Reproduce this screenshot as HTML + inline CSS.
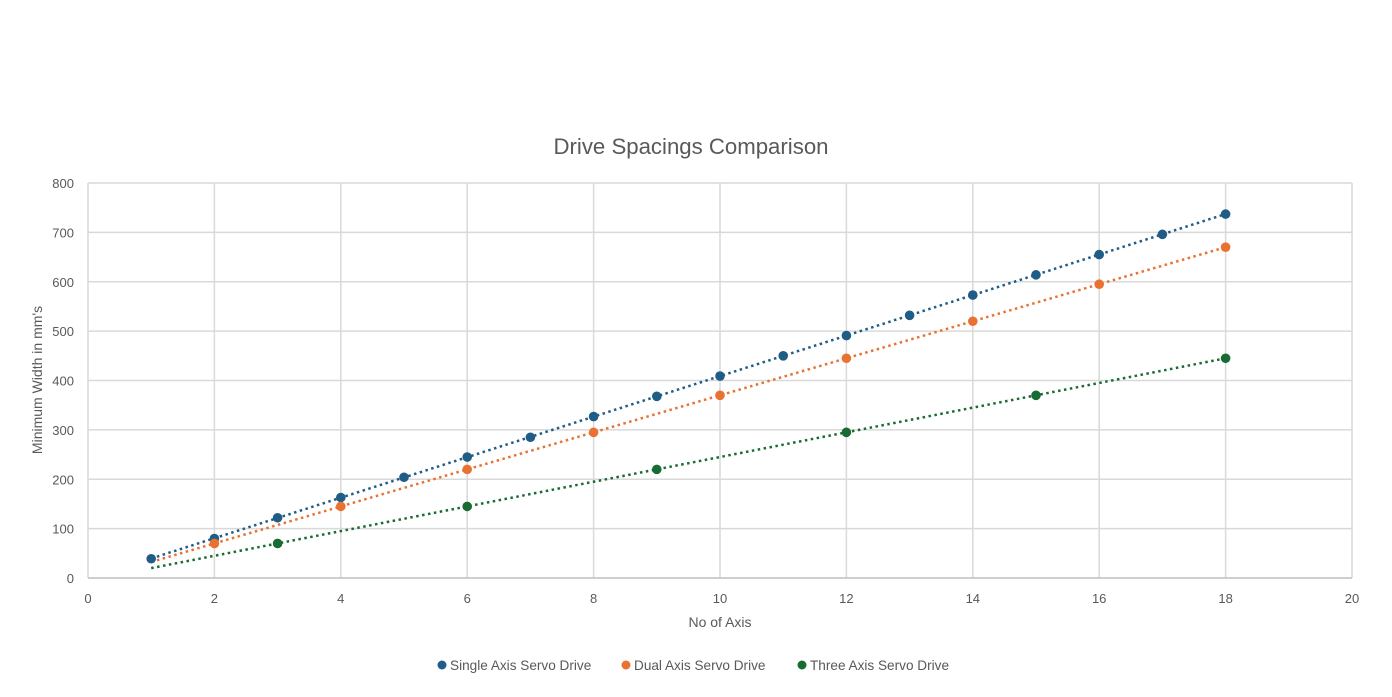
<!DOCTYPE html>
<html><head><meta charset="utf-8"><style>
html,body{margin:0;padding:0;background:#fff;}
svg{display:block;font-family:"Liberation Sans",sans-serif;}
</style></head><body>
<svg id="chart" width="1392" height="697">
<text x="691" y="154" text-anchor="middle" font-size="22.2" fill="#595959">Drive Spacings Comparison</text>
<text transform="translate(42,380) rotate(-90)" text-anchor="middle" font-size="14" fill="#595959">Minimum Width in mm's</text>
<text x="720" y="627" text-anchor="middle" font-size="14" fill="#595959">No of Axis</text>
<g id="grid"></g><g id="series"></g><g id="legend"></g>
</svg>
<script>
const xTicks=[0,2,4,6,8,10,12,14,16,18,20];
const yTicks=[0,100,200,300,400,500,600,700,800];
const singleX=[1,2,3,4,5,6,7,8,9,10,11,12,13,14,15,16,17,18];
const singleY=[39,80,122,163,204,245,285,327,368,409,450,491,532,573,614,655,696,737];
const dualX=[2,4,6,8,10,12,14,16,18];
const dualY=[70,145,220,295,370,445,520,595,670];
const threeX=[3,6,9,12,15,18];
const threeY=[70,145,220,295,370,445];
const names=["Single Axis Servo Drive","Dual Axis Servo Drive","Three Axis Servo Drive"];
const colors=["#1f5c86","#e97132","#196b34"];
const NS="http://www.w3.org/2000/svg";
const X0=88,X1=1352,Y0=578,Y1=183;
const sx=v=>X0+(v-0)/(20-0)*(X1-X0);
const sy=v=>Y0-(v-0)/(800-0)*(Y0-Y1);
function mk(tag,attrs,parent){const e=document.createElementNS(NS,tag);for(const k in attrs)e.setAttribute(k,attrs[k]);parent.appendChild(e);return e;}
const grid=document.getElementById('grid');
xTicks.forEach(t=>{
  const l=mk('line',{x1:sx(t),x2:sx(t),y1:Y1,y2:Y0,stroke:'#d9d9d9','stroke-width':1.5},grid);
  
  
  const tx=mk('text',{x:sx(t),y:Y0+25,'text-anchor':'middle','font-size':13,fill:'#595959'},grid);
  tx.textContent=t;
  
  
});
yTicks.forEach(t=>{
  const l=mk('line',{x1:X0,x2:X1,y1:sy(t),y2:sy(t),stroke:t===0?'#bfbfbf':'#d9d9d9','stroke-width':1.5},grid);
  
  
  const tx=mk('text',{x:74,y:sy(t)+5,'text-anchor':'end','font-size':13,fill:'#595959'},grid);
  tx.textContent=t;
  
  
});
const series=document.getElementById('series');
const data=[[singleX,singleY],[dualX,dualY],[threeX,threeY]];
data.forEach(([xs,ys],i)=>{
  const n=xs.length,mx=xs.reduce((a,b)=>a+b)/n,my=ys.reduce((a,b)=>a+b)/n;
  let num=0,den=0;xs.forEach((x,j)=>{num+=(x-mx)*(ys[j]-my);den+=(x-mx)*(x-mx);});
  const m=num/den,b=my-m*mx;
  const tl=mk('line',{x1:sx(1),y1:sy(m*1+b),x2:sx(18),y2:sy(m*18+b),stroke:colors[i],'stroke-width':2.5,'stroke-dasharray':'2.5 3.5'},series);
  
  
});
data.forEach(([xs,ys],i)=>{
  xs.forEach((x,j)=>{
    const c=mk('circle',{cx:sx(x),cy:sy(ys[j]),r:4.8,fill:colors[i]},series);
    
    
  });
});
const leg=document.getElementById('legend');
const lx=[442,626,802];
names.forEach((nm,i)=>{
  const c=mk('circle',{cx:lx[i],cy:665,r:4.5,fill:colors[i]},leg);
  
  
  const t=mk('text',{x:lx[i]+8,y:670,'font-size':13.6,fill:'#595959'},leg);
  t.textContent=nm;
  
  
});
</script>
</body></html>
